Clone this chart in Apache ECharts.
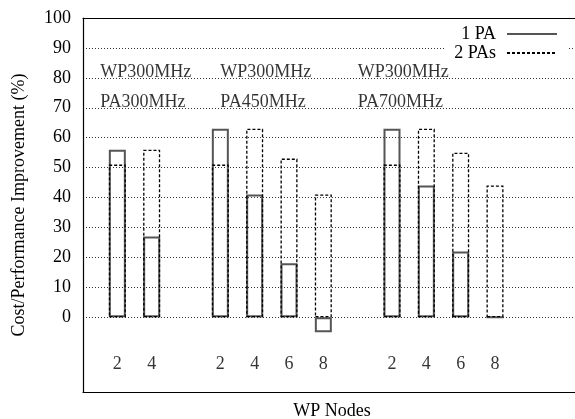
<!DOCTYPE html>
<html>
<head>
<meta charset="utf-8">
<script src="https://cdn.jsdelivr.net/npm/echarts@6/dist/echarts.min.js"></script>
<style>
  html, body { margin: 0; padding: 0; background: #fff; }
  #chart { width: 575px; height: 419px; }
</style>
</head>
<body>
<div id="chart"></div>
<script>
// Number of WP nodes under each bar, and the slot each bar occupies on the x scale
const nodes = [2, 4, 2, 4, 6, 8, 2, 4, 6, 8];
const slots = [0, 1, 3, 4, 5, 6, 8, 9, 10, 11];

// Cost/performance improvement (%) per configuration
const onePA = [56, 27, 63, 41, 18, -5, 63, 44, 22, 0];
const twoPAs = [51, 56, 51, 63, 53, 41, 51, 63, 55, 44];

// Frequency annotations for each group
const groupX = [-0.5, 3, 7];
const wpLabels = ['WP300MHz', 'WP300MHz', 'WP300MHz'];
const paLabels = ['PA300MHz', 'PA450MHz', 'PA700MHz'];

// Axis tick labels
const yTicks = [0, 10, 20, 30, 40, 50, 60, 70, 80, 90, 100];

const FONT = 'Liberation Serif';
const solidStyle = { color: '#555', width: 2 };
const dashStyle = { color: '#000', width: 1.3, type: [3, 2] };
const frameLine = { show: true, onZero: false, lineStyle: { color: '#000', width: 1.2 } };

const chart = echarts.init(document.getElementById('chart'), null, { renderer: 'canvas' });

const pts = (vals) => vals.map((v, i) => [slots[i], v]);

chart.setOption({
  animation: false,
  backgroundColor: '#fff',
  textStyle: { fontFamily: FONT },
  grid: {
    left: 83, top: 18, right: 0, bottom: 27,
    outerBoundsMode: 'none',
    containLabel: false,
    show: false
  },
  legend: {
    orient: 'vertical',
    align: 'right',
    right: 7,
    top: 19,
    padding: [6, 10, 6, 10],
    backgroundColor: '#fff',
    itemWidth: 50,
    itemHeight: 14,
    itemGap: 1,
    itemStyle: { opacity: 0 },
    data: ['1 PA', '2 PAs'],
    textStyle: { fontFamily: FONT, fontSize: 18, color: '#000', lineHeight: 18, padding: [0, 6, 0, 0] }
  },
  xAxis: [
    {
      type: 'value',
      min: -1,
      max: 13.33,
      name: 'WP Nodes',
      nameLocation: 'middle',
      nameGap: 10,
      nameTextStyle: { fontFamily: FONT, fontSize: 18, color: '#000', verticalAlign: 'top', padding: [0, 0, 0, 6] },
      axisLine: frameLine,
      axisTick: { show: false },
      axisLabel: { show: false },
      splitLine: { show: false }
    },
    {
      type: 'value',
      position: 'top',
      min: -1,
      max: 13.33,
      axisLine: frameLine,
      axisTick: { show: false },
      axisLabel: { show: false },
      splitLine: { show: false }
    }
  ],
  yAxis: {
    type: 'value',
    min: -25,
    max: 100,
    name: 'Cost/Performance Improvement (%)',
    nameLocation: 'middle',
    nameGap: 55,
    nameTextStyle: { fontFamily: FONT, fontSize: 18, color: '#000' },
    axisLine: frameLine,
    axisTick: { show: false, customValues: yTicks },
    axisLabel: {
      customValues: yTicks,
      margin: 12,
      fontFamily: FONT, fontSize: 18, color: '#000'
    },
    splitLine: { show: true, lineStyle: { color: '#333', width: 1, type: [1, 2] } }
  },
  series: [
    // legend samples
    { name: '1 PA', type: 'line', data: [], symbol: 'none', lineStyle: solidStyle, itemStyle: { color: solidStyle.color } },
    { name: '2 PAs', type: 'line', data: [], symbol: 'none', lineStyle: dashStyle, itemStyle: { color: dashStyle.color } },
    {
      name: '1 PA',
      type: 'bar',
      data: pts(onePA),
      barWidth: 17,
      barGap: '-100%',
      itemStyle: {
        color: 'transparent',
        borderColor: solidStyle.color,
        borderWidth: solidStyle.width
      }
    },
    {
      name: '2 PAs',
      type: 'bar',
      data: pts(twoPAs),
      barWidth: 17,
      barGap: '-100%',
      itemStyle: {
        color: 'transparent',
        borderColor: dashStyle.color,
        borderWidth: dashStyle.width,
        borderType: dashStyle.type
      }
    },
    // node counts beneath the bars
    {
      type: 'scatter',
      symbolSize: 0,
      silent: true,
      data: nodes.map((n, i) => ({ value: [slots[i], -15.7], label: { formatter: String(n) } })),
      label: { show: true, position: 'inside', fontFamily: FONT, fontSize: 18, color: '#000' }
    },
    // frequency annotations
    {
      type: 'scatter',
      symbolSize: 0,
      silent: true,
      data: groupX.flatMap((x, i) => [
        { value: [x, 82.0], label: { formatter: wpLabels[i] } },
        { value: [x, 72.0], label: { formatter: paLabels[i] } }
      ]),
      label: { show: true, position: 'right', distance: 0, fontFamily: FONT, fontSize: 18, color: '#000' }
    }
  ]
});
</script>
</body>
</html>
